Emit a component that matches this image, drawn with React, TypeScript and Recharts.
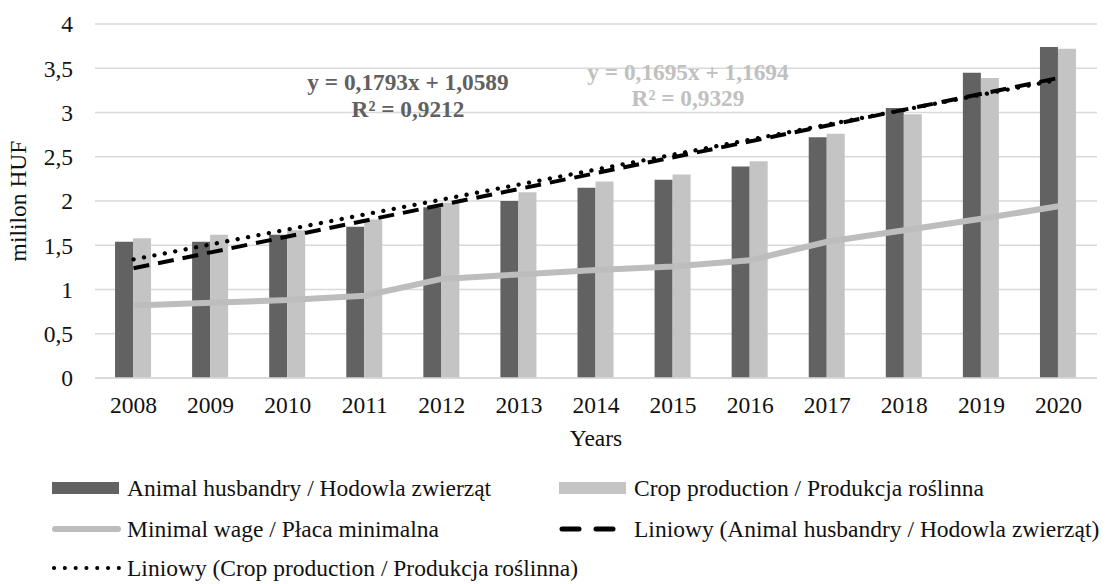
import * as React from "react";
import { ComposedChart, Bar, Line, XAxis, YAxis, CartesianGrid, Customized } from "recharts";

const years = ["2008", "2009", "2010", "2011", "2012", "2013", "2014", "2015", "2016", "2017", "2018", "2019", "2020"];
const animal = [1.54, 1.54, 1.62, 1.71, 1.93, 2.0, 2.15, 2.24, 2.39, 2.72, 3.05, 3.45, 3.74];
const crop = [1.58, 1.62, 1.67, 1.79, 1.98, 2.1, 2.22, 2.3, 2.45, 2.76, 2.98, 3.39, 3.72];
const wage = [0.82, 0.85, 0.88, 0.93, 1.12, 1.17, 1.22, 1.26, 1.33, 1.54, 1.67, 1.8, 1.94];
// trend lines: only the end points, straight line between them
const animalTrend = [1.24, null, null, null, null, null, null, null, null, null, null, null, 3.39];
const cropTrend = [1.34, null, null, null, null, null, null, null, null, null, null, null, 3.37];
const yTicks = [0, 0.5, 1, 1.5, 2, 2.5, 3, 3.5, 4];

const data = years.map((y, i) => ({
  year: y,
  animal: animal[i],
  crop: crop[i],
  wage: wage[i],
  animalTrend: animalTrend[i],
  cropTrend: cropTrend[i],
}));

const FONT = "Liberation Serif";
const DARK = "#626262";
const LIGHT = "#c4c4c4";
const WAGE = "#bdbdbd";

const Equations = () => (
  <g style={{ fontFamily: FONT }} fontSize={23.3} fontWeight="bold" textAnchor="middle">
    <text x={408} y={90} fill="#606060">y = 0,1793x + 1,0589</text>
    <text x={408} y={117} fill="#606060">R² = 0,9212</text>
    <text x={688} y={80} fill="#c0c0c0">y = 0,1695x + 1,1694</text>
    <text x={688} y={106} fill="#c0c0c0">R² = 0,9329</text>
  </g>
);

const Swatch = ({ kind }: { kind: string }) => (
  <svg width={70} height={16} style={{ display: "block" }}>
    {kind === "dark" && <rect x={0} y={2} width={67} height={12} fill={DARK} />}
    {kind === "light" && <rect x={0} y={2} width={67} height={12} fill={LIGHT} />}
    {kind === "wage" && <line x1={3} y1={8} x2={66} y2={8} stroke={WAGE} strokeWidth={6} strokeLinecap="round" />}
    {kind === "dash" && <line x1={3} y1={8} x2={66} y2={8} stroke="#000" strokeWidth={5} strokeLinecap="round" strokeDasharray="17 17" />}
    {kind === "dot" && <line x1={2} y1={8} x2={68} y2={8} stroke="#000" strokeWidth={4} strokeLinecap="round" strokeDasharray="0.1 10.7" />}
  </svg>
);

const items = [
  { kind: "dark", label: "Animal husbandry / Hodowla zwierząt", x: 52, y: 488 },
  { kind: "light", label: "Crop production / Produkcja roślinna", x: 559, y: 488 },
  { kind: "wage", label: "Minimal wage / Płaca minimalna", x: 52, y: 529 },
  { kind: "dash", label: "Liniowy (Animal husbandry / Hodowla zwierząt)", x: 559, y: 529 },
  { kind: "dot", label: "Liniowy (Crop production / Produkcja roślinna)", x: 52, y: 568 },
];

export default function App() {
  return (
    <div style={{ position: "absolute", left: 0, top: 0, width: 1111, height: 584, background: "#fff" }}>
      <ComposedChart width={1111} height={460} data={data} margin={{ top: 24, right: 14, bottom: 0, left: 0 }} barCategoryGap="26%" barGap={0} style={{ fontFamily: FONT }}>
        <CartesianGrid vertical={false} stroke="#d9d9d9" strokeWidth={1.5} />
        <XAxis
          dataKey="year"
          height={82}
          tickLine={false}
          axisLine={{ stroke: "#d9d9d9", strokeWidth: 1.5 }}
          tick={{ fontSize: 23.5, fill: "#111", style: { fontFamily: FONT } }}
          tickMargin={12}
          label={{ value: "Years", position: "insideBottom", offset: 14, fontSize: 23.5, fill: "#111", style: { fontFamily: FONT } }}
        />
        <YAxis
          width={95}
          domain={[0, 4]}
          ticks={yTicks}
          tickLine={false}
          axisLine={false}
          tickMargin={16}
          tickFormatter={(v: number) => String(v).replace(".", ",")}
          tick={{ fontSize: 23.5, fill: "#111", style: { fontFamily: FONT } }}
          label={{ value: "mililon HUF", angle: -90, position: "insideLeft", offset: 18, fontSize: 23.5, fill: "#111", style: { textAnchor: "middle", fontFamily: FONT } }}
        />
        <Bar dataKey="animal" fill={DARK} isAnimationActive={false} />
        <Bar dataKey="crop" fill={LIGHT} isAnimationActive={false} />
        <Line dataKey="wage" stroke={WAGE} strokeWidth={6} dot={false} isAnimationActive={false} />
        <Line dataKey="animalTrend" stroke="#000" strokeWidth={4} strokeDasharray="16 9" dot={false} connectNulls isAnimationActive={false} />
        <Line dataKey="cropTrend" stroke="#000" strokeWidth={4.3} strokeLinecap="round" strokeDasharray="0.1 10.5" dot={false} connectNulls isAnimationActive={false} />
        <Customized component={Equations} />
      </ComposedChart>
      {items.map((it) => (
        <div key={it.label} style={{ position: "absolute", left: it.x, top: it.y - 8 }}>
          <Swatch kind={it.kind} />
          <div style={{ position: "absolute", left: 75, top: -5, fontFamily: FONT, fontSize: 23.5, color: "#111", whiteSpace: "nowrap", lineHeight: "26px" }}>{it.label}</div>
        </div>
      ))}
    </div>
  );
}
